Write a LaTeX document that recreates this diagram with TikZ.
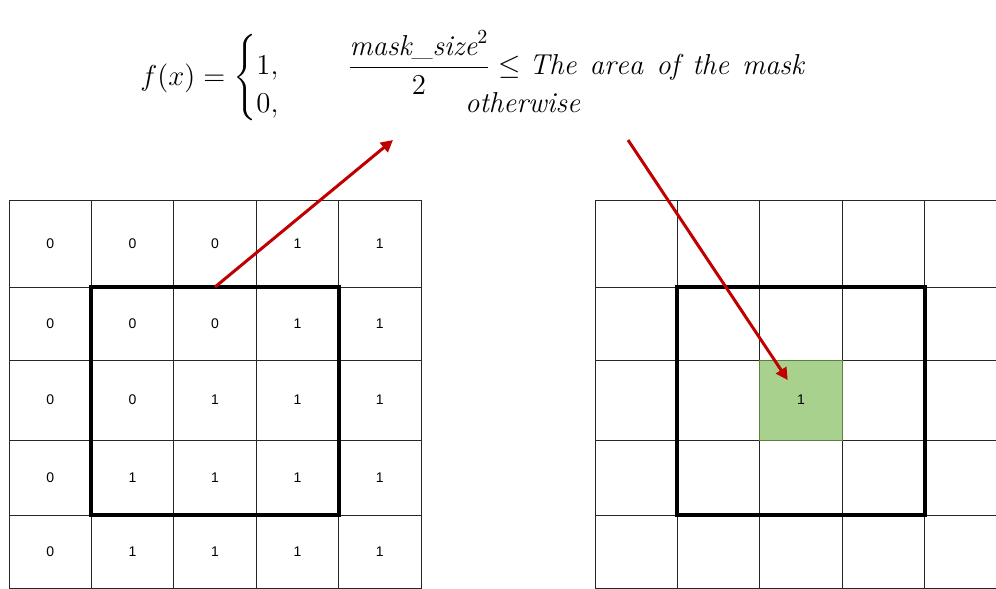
\documentclass[tikz,border=0pt]{standalone}
\usepackage{amsmath}
\usepackage{fontspec}
\setsansfont{Liberation Sans}
\definecolor{maskred}{HTML}{C00000}
\definecolor{hitgreen}{HTML}{A9D18E}
\definecolor{hitgreenline}{HTML}{5A7F3F}
\usetikzlibrary{arrows.meta}
\tikzset{
    gridcell/.style={
        draw=black!85,
        line width=0.5pt,
        inner sep=0pt,
        outer sep=0pt,
        minimum width=41.2pt,
        font=\sffamily\scriptsize
    },
    hitcell/.style={
        gridcell,
        fill=hitgreen,
        draw=hitgreenline
    },
    maskframe/.style={
        draw=black,
        line width=2pt
    },
    maskarrow/.style={
        -{Triangle[length=6pt,width=6pt]},
        draw=maskred,
        line width=1.5pt
    },
    formula/.style={
        font=\Large,
        inner sep=0pt
    }
}
\newcommand{\wsp}{\hspace{6.5pt}}

\begin{document}
\begin{tikzpicture}[x=0.5pt,y=-0.5pt]
    \useasboundingbox (0,0) rectangle (996,589);

    % input mask values
    \foreach \r/\ytop/\ybot/\vals in {1/200/287/{0,0,0,1,1},2/287/360/{0,0,0,1,1},
        3/360/440/{0,0,1,1,1},4/440/515/{0,1,1,1,1},5/515/588/{0,1,1,1,1}}{
        \foreach \v [count=\c] in \vals
            \node[gridcell,minimum height={(\ybot-\ytop)*0.5pt}] (L-\r-\c)
                at ({9+82.4*(\c-0.5)},{(\ytop+\ybot)/2}) {\v};
    }
    % output grid
    \foreach \r/\ytop/\ybot in {1/200/287,2/287/360,3/360/440,4/440/515,5/515/588}{
        \foreach \c in {1,...,5}
            \node[gridcell,minimum height={(\ybot-\ytop)*0.5pt}] (R-\r-\c)
                at ({595+82.4*(\c-0.5)},{(\ytop+\ybot)/2}) {};
    }
    \node[hitcell,minimum height=40pt] (hit) at (R-3-3.center) {1};

    \draw[maskframe] (L-2-2.north west) rectangle (L-4-4.south east);
    \draw[maskframe] (R-2-2.north west) rectangle (R-4-4.south east);

    \node[formula,anchor=west] (rule) at (140,78)
        {$f(x) = \begin{cases}
            1, & \hspace{20pt}\dfrac{\mathit{mask\_size}^2}{2} \le
                \mathit{The\wsp area\wsp of\wsp the\wsp mask}\\[-6pt]
            0, & \hspace{79pt}\mathit{otherwise}
        \end{cases}$};

    \coordinate (ask) at (393,140);
    \coordinate (answer) at (628,140);
    \draw[maskarrow] (L-2-3.north) -- (ask);
    \draw[maskarrow,shorten >=12pt] (answer) -- (hit.center);
\end{tikzpicture}
\end{document}
